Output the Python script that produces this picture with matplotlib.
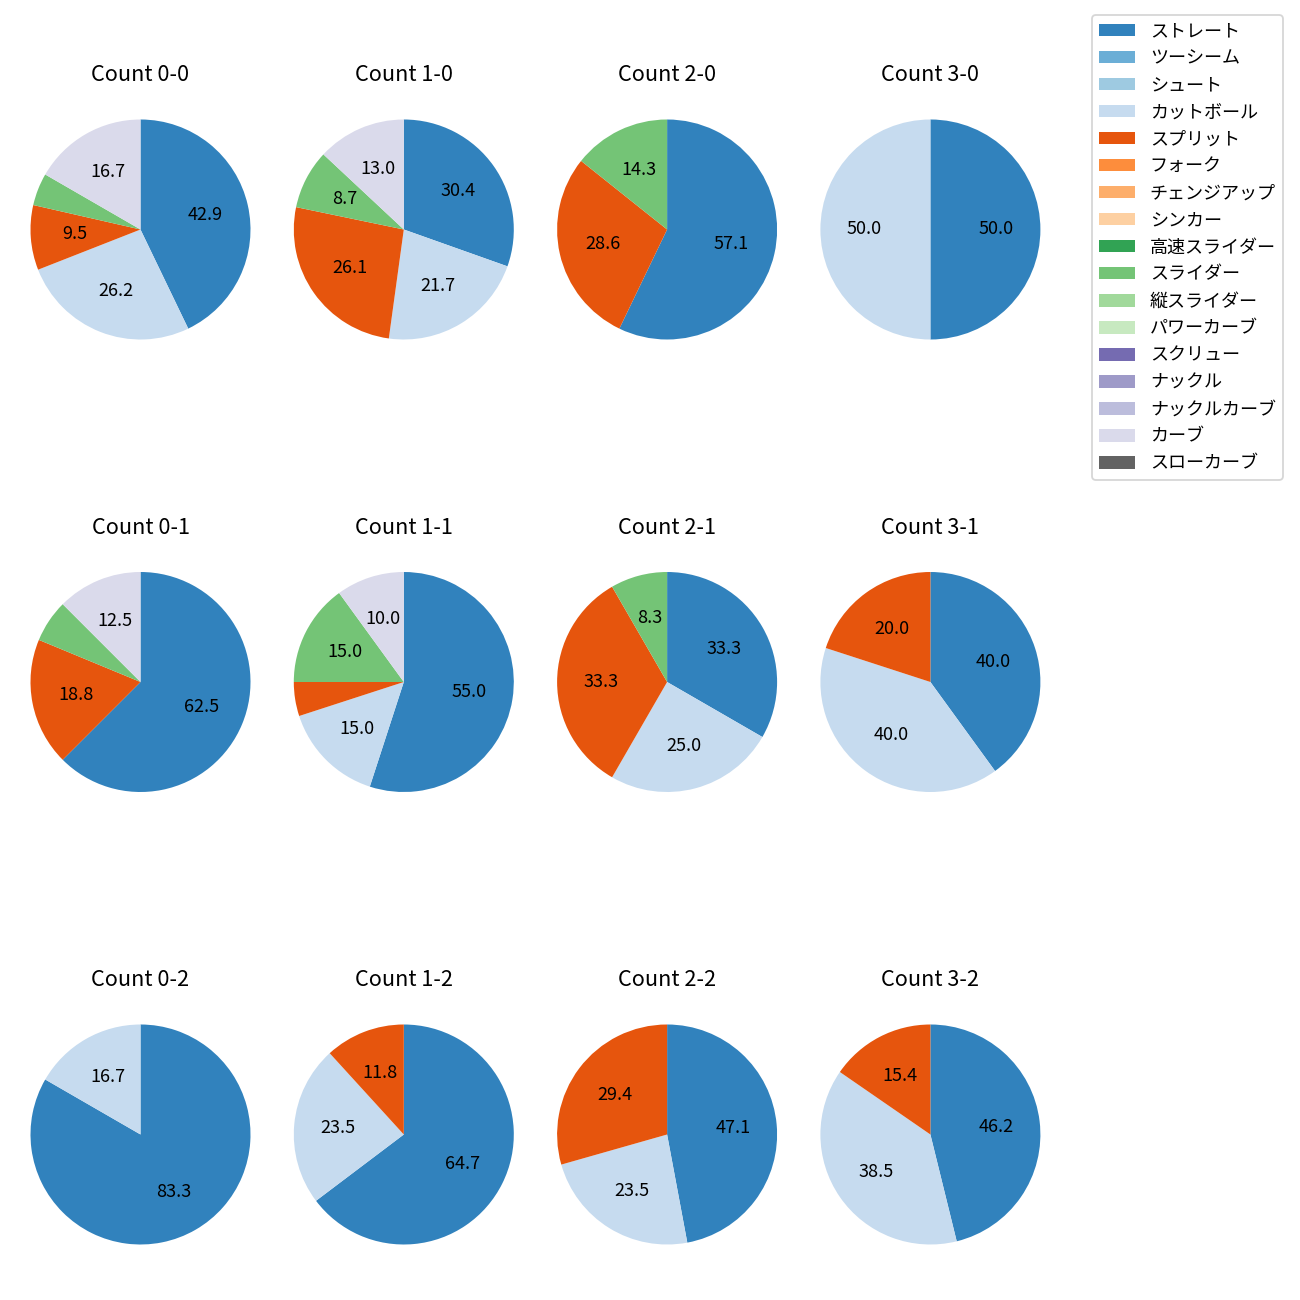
import numpy as np
import matplotlib
matplotlib.use("Agg")
import matplotlib.pyplot as plt
from matplotlib.patches import Patch

plt.rcParams['font.family'] = ['Noto Sans CJK JP', 'DejaVu Sans']

PITCH_TYPES = ['ストレート', 'ツーシーム', 'シュート', 'カットボール', 'スプリット', 'フォーク',
               'チェンジアップ', 'シンカー', '高速スライダー', 'スライダー', '縦スライダー',
               'パワーカーブ', 'スクリュー', 'ナックル', 'ナックルカーブ', 'カーブ', 'スローカーブ']
COLORS = [plt.cm.tab20c(i) for i in range(len(PITCH_TYPES))]

# pitch counts per ball-strike count (ストレート, カットボール, スプリット, スライダー, カーブ)
USED = ['ストレート', 'カットボール', 'スプリット', 'スライダー', 'カーブ']
count_0_0 = [18, 11, 4, 2, 7]
count_1_0 = [7, 5, 6, 2, 3]
count_2_0 = [4, 0, 2, 1, 0]
count_3_0 = [1, 1, 0, 0, 0]
count_0_1 = [10, 0, 3, 1, 2]
count_1_1 = [11, 3, 1, 3, 2]
count_2_1 = [4, 3, 4, 1, 0]
count_3_1 = [2, 2, 1, 0, 0]
count_0_2 = [5, 1, 0, 0, 0]
count_1_2 = [11, 4, 2, 0, 0]
count_2_2 = [8, 4, 5, 0, 0]
count_3_2 = [6, 5, 2, 0, 0]

grid = [
    [('0-0', count_0_0), ('1-0', count_1_0), ('2-0', count_2_0), ('3-0', count_3_0)],
    [('0-1', count_0_1), ('1-1', count_1_1), ('2-1', count_2_1), ('3-1', count_3_1)],
    [('0-2', count_0_2), ('1-2', count_1_2), ('2-2', count_2_2), ('3-2', count_3_2)],
]

fig = plt.figure(figsize=(10, 10), dpi=130)
W = H = 1300
size = 275
for i, row in enumerate(grid):
    for j, (name, vals) in enumerate(row):
        cx = 140.5 + 263.3 * j
        cy = 229.5 + 452.5 * i
        ax = fig.add_axes([(cx - size / 2) / W, (H - cy - size / 2) / H, size / W, size / H])
        v = [x for x in vals if x > 0]
        c = [COLORS[PITCH_TYPES.index(USED[k])] for k, x in enumerate(vals) if x > 0]
        ax.pie(v, colors=c, startangle=90, counterclock=False,
               autopct=lambda p: f'{p:.1f}' if p >= 7 else '')
        ax.set_title(f'Count {name}')

handles = [Patch(facecolor=COLORS[k], label=PITCH_TYPES[k]) for k in range(len(PITCH_TYPES))]
fig.legend(handles=handles, loc='upper right', bbox_to_anchor=(1283 / W, 1 - 15 / H),
           borderaxespad=0)

fig.savefig('out.png', dpi=130)
